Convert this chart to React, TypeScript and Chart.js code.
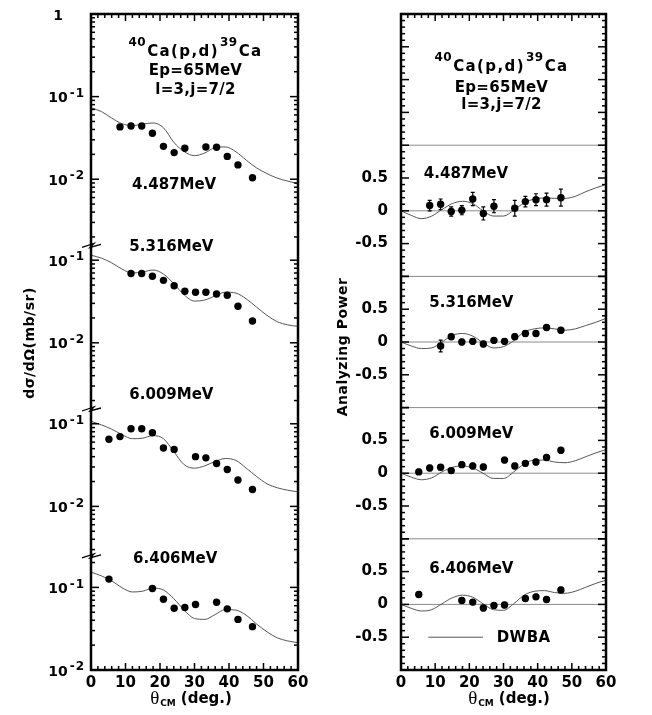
import { useEffect, useRef } from 'react';
import { Chart, registerables } from 'chart.js';

Chart.register(...registerables);

const FAMILY = '"DejaVu Sans", "Liberation Sans", sans-serif';
const boldFont = (px: number) => `bold ${px}px ${FAMILY}`;

// Excited states of 39Ca populated in 40Ca(p,d)
const levelLabels = ['4.487MeV', '5.316MeV', '6.009MeV', '6.406MeV'];

// Centre-of-mass angles (deg.) of the measured points
const angles4487 = [8.4, 11.6, 14.7, 17.8, 21.0, 24.1, 27.2, 33.3, 36.4, 39.5, 42.6, 46.8];
const angles5316 = [11.6, 14.7, 17.8, 21.0, 24.1, 27.2, 30.3, 33.3, 36.4, 39.5, 42.6, 46.8];
const angles6009 = [5.2, 8.4, 11.6, 14.7, 17.8, 21.0, 24.1, 30.3, 33.3, 36.4, 39.5, 42.6, 46.8];
const angles6406 = [5.2, 17.8, 21.0, 24.1, 27.2, 30.3, 36.4, 39.5, 42.6, 46.8];

// Differential cross sections dσ/dΩ (mb/sr)
const xs4487 = [0.043, 0.044, 0.044, 0.036, 0.025, 0.021, 0.0237, 0.0245, 0.0244, 0.0189, 0.0149, 0.0104];
const xs5316 = [0.069, 0.069, 0.064, 0.057, 0.049, 0.042, 0.041, 0.041, 0.039, 0.0376, 0.0277, 0.0184];
const xs6009 = [0.065, 0.07, 0.087, 0.087, 0.078, 0.051, 0.049, 0.04, 0.0387, 0.033, 0.028, 0.0209, 0.016];
const xs6406 = [0.126, 0.097, 0.072, 0.056, 0.057, 0.062, 0.066, 0.055, 0.041, 0.0335];

// Analyzing powers and their uncertainties
const ap4487 = [0.08, 0.1, -0.01, 0.01, 0.18, -0.04, 0.07, 0.04, 0.14, 0.17, 0.17, 0.2];
const apErr4487 = [0.08, 0.08, 0.07, 0.07, 0.1, 0.1, 0.1, 0.12, 0.08, 0.09, 0.1, 0.13];
const ap5316 = [-0.06, 0.08, 0.0, 0.01, -0.03, 0.025, 0.01, 0.08, 0.13, 0.13, 0.22, 0.18];
const apErr5316 = [0.09, 0.04, 0.04, 0.04, 0.04, 0.04, 0.04, 0.04, 0.04, 0.04, 0.04, 0.04];
const ap6009 = [0.02, 0.08, 0.09, 0.04, 0.13, 0.11, 0.095, 0.2, 0.11, 0.15, 0.17, 0.24, 0.35];
const apErr6009 = [0.04, 0.04, 0.04, 0.04, 0.04, 0.04, 0.04, 0.04, 0.04, 0.04, 0.04, 0.04, 0.04];
const ap6406 = [0.15, 0.06, 0.035, -0.055, -0.015, -0.01, 0.09, 0.115, 0.075, 0.22];
const apErr6406 = [0.04, 0.04, 0.04, 0.04, 0.04, 0.04, 0.04, 0.04, 0.04, 0.04];

// DWBA predictions (l=3, j=7/2)
const dwbaAngles = [0, 3, 6, 9, 12, 15, 18, 21, 24, 27, 30, 33, 36, 39, 42, 45, 48, 51, 54, 57, 60];
const dwbaXs4487 = [0.073, 0.066, 0.055, 0.047, 0.0445, 0.0465, 0.048, 0.042, 0.028, 0.0216, 0.0193, 0.0208, 0.0242, 0.0246, 0.0215, 0.017, 0.0137, 0.0117, 0.0103, 0.0095, 0.0088];
const dwbaXs5316 = [0.115, 0.106, 0.093, 0.078, 0.07, 0.072, 0.076, 0.068, 0.052, 0.038, 0.032, 0.033, 0.037, 0.041, 0.04, 0.034, 0.027, 0.0215, 0.018, 0.0165, 0.0158];
const dwbaXs6009 = [0.107, 0.097, 0.086, 0.074, 0.066, 0.067, 0.072, 0.066, 0.046, 0.032, 0.029, 0.031, 0.035, 0.038, 0.036, 0.029, 0.023, 0.0188, 0.0168, 0.0157, 0.015];
const dwbaXs6406 = [0.153, 0.138, 0.12, 0.099, 0.088, 0.09, 0.098, 0.093, 0.073, 0.053, 0.042, 0.041, 0.047, 0.054, 0.053, 0.046, 0.036, 0.029, 0.0245, 0.0225, 0.0214];
const dwbaAp4487 = [0, -0.07, -0.12, -0.08, 0.02, 0.11, 0.145, 0.11, 0.0, -0.08, -0.08, 0.01, 0.12, 0.18, 0.195, 0.19, 0.19, 0.22, 0.29, 0.35, 0.4];
const dwbaAp5316 = [0, -0.06, -0.1, -0.09, 0.0, 0.1, 0.13, 0.09, -0.01, -0.09, -0.07, 0.02, 0.15, 0.2, 0.215, 0.2, 0.18, 0.2, 0.25, 0.3, 0.36];
const dwbaAp6009 = [0, -0.06, -0.1, -0.07, 0.02, 0.09, 0.11, 0.08, 0.0, -0.08, -0.08, 0.02, 0.14, 0.2, 0.2, 0.17, 0.16, 0.19, 0.25, 0.31, 0.36];
const dwbaAp6406 = [0, -0.06, -0.1, -0.08, 0.01, 0.1, 0.14, 0.11, 0.01, -0.08, -0.09, 0.01, 0.14, 0.2, 0.21, 0.18, 0.17, 0.2, 0.26, 0.32, 0.37];

// Axis ranges and labelled ticks
const angleTickLabels = [0, 10, 20, 30, 40, 50, 60];
const xsAxisMax = [1, 0.151, 0.151, 0.24];
const xsAxisMin = [0.00158, 0.00158, 0.00251, 0.01];
const xsTickLabels = [1, 0.1, 0.01];
const apAxisMax = [3, 1, 1, 1];
const apAxisMin = [-1, -1, -1, -1];
const apTickLabels = [0.5, 0, -0.5];

const levelAngles = [angles4487, angles5316, angles6009, angles6406];
const levelXs = [xs4487, xs5316, xs6009, xs6406];
const levelAp = [ap4487, ap5316, ap6009, ap6406];
const levelApErr = [apErr4487, apErr5316, apErr6009, apErr6406];
const levelDwbaXs = [dwbaXs4487, dwbaXs5316, dwbaXs6009, dwbaXs6406];
const levelDwbaAp = [dwbaAp4487, dwbaAp5316, dwbaAp6009, dwbaAp6406];

// Where each level name sits, in (angle, value) of its panel axis
const xsLevelLabelAt = [
  { x: 24.1, axis: 'y0', y: 0.0085 },
  { x: 23.3, axis: 'y1', y: 0.145 },
  { x: 23.3, axis: 'y1', y: 0.0023 },
  { x: 24.4, axis: 'y3', y: 0.22 },
];
const apLevelLabelAt = [
  { x: 19.0, axis: 'y0', y: 0.56 },
  { x: 20.6, axis: 'y1', y: 0.6 },
  { x: 20.6, axis: 'y2', y: 0.6 },
  { x: 20.6, axis: 'y3', y: 0.54 },
];

const reactionLines = [
  [{ text: '40', sup: true }, { text: 'Ca(p,d)' }, { text: '39', sup: true }, { text: 'Ca' }],
  [{ text: 'Ep=65MeV' }],
  [{ text: 'l=3,j=7/2' }],
];

const CURVE_COLOR = '#555';
const GUIDE_COLOR = '#8a8a8a';

type Part = { text: string; font: string; dy?: number; gap?: number; spacing?: number };

function richText(ctx: CanvasRenderingContext2D, parts: Part[], x: number, y: number, align: string) {
  ctx.save();
  ctx.textBaseline = 'middle';
  ctx.textAlign = 'left';
  ctx.fillStyle = '#000';
  const widths = parts.map((p) => {
    ctx.font = p.font;
    (ctx as any).letterSpacing = `${p.spacing || 0}px`;
    return ctx.measureText(p.text).width + (p.gap || 0);
  });
  const total = widths.reduce((s, w) => s + w, 0);
  let cx = align === 'left' ? x : align === 'center' ? x - total / 2 : x - total;
  parts.forEach((p, i) => {
    ctx.font = p.font;
    (ctx as any).letterSpacing = `${p.spacing || 0}px`;
    ctx.fillText(p.text, cx, y + (p.dy || 0));
    cx += widths[i];
  });
  ctx.restore();
}

function drawTitleBlock(ctx: CanvasRenderingContext2D, cx: number, ys: number[]) {
  reactionLines.forEach((line, i) => {
    const parts = line.map((p: any) =>
      p.sup
        ? { text: p.text, font: boldFont(12), dy: -9, gap: 1, spacing: 0.5 }
        : { text: p.text, font: boldFont(15), gap: 1, spacing: i === 0 ? 1.4 : 0.3 }
    );
    richText(ctx, parts, cx, ys[i], 'center');
  });
}

function drawAngleTitle(ctx: CanvasRenderingContext2D, cx: number, y: number) {
  richText(
    ctx,
    [
      { text: 'θ', font: '19px "Liberation Serif", serif', gap: 1 },
      { text: 'CM', font: boldFont(9), dy: 5, gap: 5 },
      { text: '(deg.)', font: boldFont(15) },
    ],
    cx,
    y,
    'center'
  );
}

function drawVerticalTitle(ctx: CanvasRenderingContext2D, text: string, x: number, y: number) {
  ctx.save();
  ctx.translate(x, y);
  ctx.rotate(-Math.PI / 2);
  ctx.font = boldFont(14);
  ctx.fillStyle = '#000';
  ctx.textAlign = 'center';
  ctx.textBaseline = 'middle';
  (ctx as any).letterSpacing = '0.5px';
  ctx.fillText(text, 0, 0);
  ctx.restore();
}

const isPow10 = (v: number) => Math.abs(Math.log10(v) - Math.round(Math.log10(v))) < 1e-9;
const isHalf = (v: number) => Math.abs(v * 2 - Math.round(v * 2)) < 1e-6;

function logTickValues(min: number, max: number) {
  const out: number[] = [];
  for (let e = -4; e <= 1; e++) {
    for (let k = 1; k <= 9; k++) {
      const v = parseFloat((k * Math.pow(10, e)).toPrecision(6));
      if (v >= min * 0.9999 && v <= max * 1.0001) out.push(v);
    }
  }
  return out;
}

function linearTickValues(min: number, max: number) {
  const out: number[] = [];
  for (let i = Math.round(min * 10); i <= Math.round(max * 10); i++) out.push(i / 10);
  return out;
}

function angleAxis() {
  return {
    type: 'linear',
    position: 'bottom',
    min: 0,
    max: 60,
    grid: { display: false, drawTicks: false },
    border: { display: false },
    afterBuildTicks: (s: any) => {
      const t: any[] = [];
      for (let v = 0; v <= 60; v += 2) t.push({ value: v });
      s.ticks = t;
    },
    ticks: {
      autoSkip: false,
      maxRotation: 0,
      padding: 4,
      color: '#000',
      font: { family: FAMILY, weight: 'bold', size: 15 },
      callback: (v: any) => (angleTickLabels.includes(Number(v)) ? String(v) : ''),
    },
    afterFit: (s: any) => {
      s.height = 45;
    },
  };
}

// Inward tick marks on all four sides plus the heavy frame
function drawFrame(chart: any, yIds: string[], logScale: boolean) {
  const { ctx, chartArea: a } = chart;
  ctx.save();
  ctx.strokeStyle = '#000';
  ctx.lineWidth = 1.5;
  const seg = (x1: number, y1: number, x2: number, y2: number) => {
    ctx.beginPath();
    ctx.moveTo(x1, y1);
    ctx.lineTo(x2, y2);
    ctx.stroke();
  };
  const xs = chart.scales.x;
  xs.ticks.forEach((t: any) => {
    const px = xs.getPixelForValue(t.value);
    const len = t.value % 10 === 0 ? 7 : 4;
    seg(px, a.bottom, px, a.bottom - len);
    seg(px, a.top, px, a.top + len);
  });
  yIds.forEach((id) => {
    const s = chart.scales[id];
    s.ticks.forEach((t: any) => {
      const major = logScale ? isPow10(t.value) : isHalf(t.value);
      const len = major ? 8 : 4;
      const py = s.getPixelForValue(t.value);
      seg(a.left, py, a.left + len, py);
      seg(a.right, py, a.right - len, py);
    });
  });
  ctx.lineWidth = 2.5;
  ctx.strokeRect(a.left, a.top, a.right - a.left, a.bottom - a.top);
  ctx.restore();
}

const Y_IDS = ['y0', 'y1', 'y2', 'y3'];

function buildXsConfig(): any {
  const scales: any = { x: angleAxis() };
  Y_IDS.forEach((id, i) => {
    const min = xsAxisMin[i];
    const max = xsAxisMax[i];
    scales[id] = {
      type: 'logarithmic',
      position: 'left',
      stack: 'xs',
      stackWeight: Math.log10(max / min),
      weight: 4 - i,
      min,
      max,
      grid: { display: false, drawTicks: false },
      border: { display: false },
      ticks: { display: false },
      afterBuildTicks: (s: any) => {
        s.ticks = logTickValues(min, max).map((v) => ({ value: v }));
      },
      afterFit: (s: any) => {
        s.width = 83;
        s.paddingTop = 0;
        s.paddingBottom = 0;
      },
    };
  });

  const datasets: any[] = [];
  Y_IDS.forEach((id, i) => {
    datasets.push({
      label: levelLabels[i],
      data: levelAngles[i].map((a, j) => ({ x: a, y: levelXs[i][j] })),
      yAxisID: id,
      showLine: false,
      pointRadius: 3.7,
      pointBackgroundColor: '#000',
      pointBorderWidth: 0,
      order: 0,
    });
    datasets.push({
      label: `DWBA ${levelLabels[i]}`,
      data: dwbaAngles.map((a, j) => ({ x: a, y: levelDwbaXs[i][j] })),
      yAxisID: id,
      showLine: true,
      borderColor: CURVE_COLOR,
      borderWidth: 1,
      pointRadius: 0,
      cubicInterpolationMode: 'monotone',
      order: 1,
    });
  });

  const decor = {
    id: 'xsDecor',
    afterDatasetsDraw(chart: any) {
      const { ctx, chartArea: a } = chart;
      drawFrame(chart, Y_IDS, true);

      // break marks where one panel hands over to the next
      ctx.save();
      ctx.strokeStyle = '#000';
      ctx.lineWidth = 1.3;
      Y_IDS.slice(1).forEach((id) => {
        const y = chart.scales[id].top;
        const x = a.left;
        ctx.beginPath();
        ctx.moveTo(x - 9, y + 2);
        ctx.lineTo(x + 3, y - 2);
        ctx.lineTo(x - 1, y + 2);
        ctx.lineTo(x + 10, y - 1);
        ctx.stroke();
      });
      ctx.restore();

      // decade labels with raised exponents
      Y_IDS.forEach((id) => {
        const s = chart.scales[id];
        xsTickLabels.forEach((v) => {
          if (v < s.min * 0.9999 || v > s.max * 1.0001) return;
          const py = s.getPixelForValue(v);
          const e = Math.round(Math.log10(v));
          const right = a.left - 6;
          if (e === 0) {
            richText(ctx, [{ text: '1', font: boldFont(14) }], right - 22, py + 2, 'right');
          } else {
            ctx.save();
            ctx.font = boldFont(12);
            (ctx as any).letterSpacing = '1px';
            const ew = ctx.measureText(String(e)).width;
            ctx.restore();
            richText(ctx, [{ text: String(e), font: boldFont(12), spacing: 1 }], right, py - 3, 'right');
            richText(ctx, [{ text: '10', font: boldFont(14) }], right - ew - 2, py + 2, 'right');
          }
        });
      });

      // level names
      xsLevelLabelAt.forEach((p, i) => {
        const px = chart.scales.x.getPixelForValue(p.x);
        const py = chart.scales[p.axis].getPixelForValue(p.y);
        richText(ctx, [{ text: levelLabels[i], font: boldFont(15) }], px, py, 'center');
      });

      const cx = (a.left + a.right) / 2;
      drawTitleBlock(ctx, cx + 1.5, [a.top + 38, a.top + 57, a.top + 76]);
      drawVerticalTitle(ctx, 'dσ/dΩ(mb/sr)', 30, 343);
      drawAngleTitle(ctx, cx - 3.5, 699);
    },
  };

  return {
    type: 'scatter',
    data: { datasets },
    options: {
      animation: false,
      responsive: false,
      events: [],
      layout: { padding: { left: 8, right: 32, top: 14, bottom: 0 } },
      plugins: { legend: { display: false }, tooltip: { enabled: false } },
      scales,
    },
    plugins: [decor],
  };
}

function buildApConfig(): any {
  const scales: any = { x: angleAxis() };
  Y_IDS.forEach((id, i) => {
    const min = apAxisMin[i];
    const max = apAxisMax[i];
    scales[id] = {
      type: 'linear',
      position: 'left',
      stack: 'ap',
      stackWeight: max - min,
      weight: 4 - i,
      min,
      max,
      grid: { display: false, drawTicks: false },
      border: { display: false },
      afterBuildTicks: (s: any) => {
        s.ticks = linearTickValues(min, max).map((v) => ({ value: v }));
      },
      ticks: {
        autoSkip: false,
        padding: 13,
        color: '#000',
        font: { family: FAMILY, weight: 'bold', size: 15 },
        callback: (v: any) => {
          const hit = apTickLabels.find((t) => Math.abs(t - Number(v)) < 1e-6);
          return hit === undefined ? '' : String(hit);
        },
      },
      afterFit: (s: any) => {
        s.width = 63;
        s.paddingTop = 0;
        s.paddingBottom = 0;
      },
    };
  });

  const datasets: any[] = [];
  Y_IDS.forEach((id, i) => {
    datasets.push({
      label: levelLabels[i],
      data: levelAngles[i].map((a, j) => ({ x: a, y: levelAp[i][j] })),
      yAxisID: id,
      showLine: false,
      pointRadius: 3.7,
      pointBackgroundColor: '#000',
      pointBorderWidth: 0,
      order: 0,
    });
    datasets.push({
      label: `DWBA ${levelLabels[i]}`,
      data: dwbaAngles.map((a, j) => ({ x: a, y: levelDwbaAp[i][j] })),
      yAxisID: id,
      showLine: true,
      borderColor: CURVE_COLOR,
      borderWidth: 1,
      pointRadius: 0,
      cubicInterpolationMode: 'monotone',
      order: 1,
    });
  });

  const decor = {
    id: 'apDecor',
    beforeDatasetsDraw(chart: any) {
      const { ctx, chartArea: a } = chart;
      const xScale = chart.scales.x;
      ctx.save();
      ctx.strokeStyle = GUIDE_COLOR;
      ctx.lineWidth = 1;
      const hline = (y: number) => {
        ctx.beginPath();
        ctx.moveTo(a.left, y);
        ctx.lineTo(a.right, y);
        ctx.stroke();
      };
      // panel separators and zero lines
      hline(chart.scales.y0.getPixelForValue(1));
      Y_IDS.slice(1).forEach((id) => hline(chart.scales[id].top));
      Y_IDS.forEach((id) => hline(chart.scales[id].getPixelForValue(0)));

      // DWBA legend sample
      ctx.strokeStyle = CURVE_COLOR;
      const ly = chart.scales.y3.getPixelForValue(-0.5);
      ctx.beginPath();
      ctx.moveTo(xScale.getPixelForValue(8), ly);
      ctx.lineTo(xScale.getPixelForValue(24), ly);
      ctx.stroke();

      // error bars
      ctx.strokeStyle = '#000';
      ctx.lineWidth = 1.2;
      Y_IDS.forEach((id, i) => {
        const s = chart.scales[id];
        levelAngles[i].forEach((ang, j) => {
          const px = xScale.getPixelForValue(ang);
          const top = s.getPixelForValue(levelAp[i][j] + levelApErr[i][j]);
          const bot = s.getPixelForValue(levelAp[i][j] - levelApErr[i][j]);
          ctx.beginPath();
          ctx.moveTo(px, top);
          ctx.lineTo(px, bot);
          ctx.moveTo(px - 2, top);
          ctx.lineTo(px + 2, top);
          ctx.moveTo(px - 2, bot);
          ctx.lineTo(px + 2, bot);
          ctx.stroke();
        });
      });
      ctx.restore();
    },
    afterDatasetsDraw(chart: any) {
      const { ctx, chartArea: a } = chart;
      drawFrame(chart, Y_IDS, false);

      apLevelLabelAt.forEach((p, i) => {
        const px = chart.scales.x.getPixelForValue(p.x);
        const py = chart.scales[p.axis].getPixelForValue(p.y);
        richText(ctx, [{ text: levelLabels[i], font: boldFont(15) }], px, py, 'center');
      });

      richText(
        ctx,
        [{ text: 'DWBA', font: boldFont(15), spacing: 0.5 }],
        chart.scales.x.getPixelForValue(28),
        chart.scales.y3.getPixelForValue(-0.5) + 1,
        'left'
      );

      const cx = (a.left + a.right) / 2;
      drawTitleBlock(ctx, cx - 1.5, [a.top + 53, a.top + 74, a.top + 91]);
      drawVerticalTitle(ctx, 'Analyzing Power', 13, 347);
      drawAngleTitle(ctx, cx + 5.5, 699);
    },
  };

  return {
    type: 'scatter',
    data: { datasets },
    options: {
      animation: false,
      responsive: false,
      events: [],
      layout: { padding: { left: 8, right: 46, top: 14, bottom: 0 } },
      plugins: { legend: { display: false }, tooltip: { enabled: false } },
      scales,
    },
    plugins: [decor],
  };
}

export default function App() {
  const leftRef = useRef<HTMLCanvasElement>(null);
  const rightRef = useRef<HTMLCanvasElement>(null);

  useEffect(() => {
    const left = new Chart(leftRef.current as HTMLCanvasElement, buildXsConfig());
    const right = new Chart(rightRef.current as HTMLCanvasElement, buildApConfig());
    return () => {
      left.destroy();
      right.destroy();
    };
  }, []);

  return (
    <div style={{ position: 'absolute', left: 0, top: 0, width: 652, height: 715, background: '#fff' }}>
      <canvas ref={leftRef} width={330} height={715} style={{ position: 'absolute', left: 0, top: 0 }} />
      <canvas ref={rightRef} width={322} height={715} style={{ position: 'absolute', left: 330, top: 0 }} />
    </div>
  );
}
